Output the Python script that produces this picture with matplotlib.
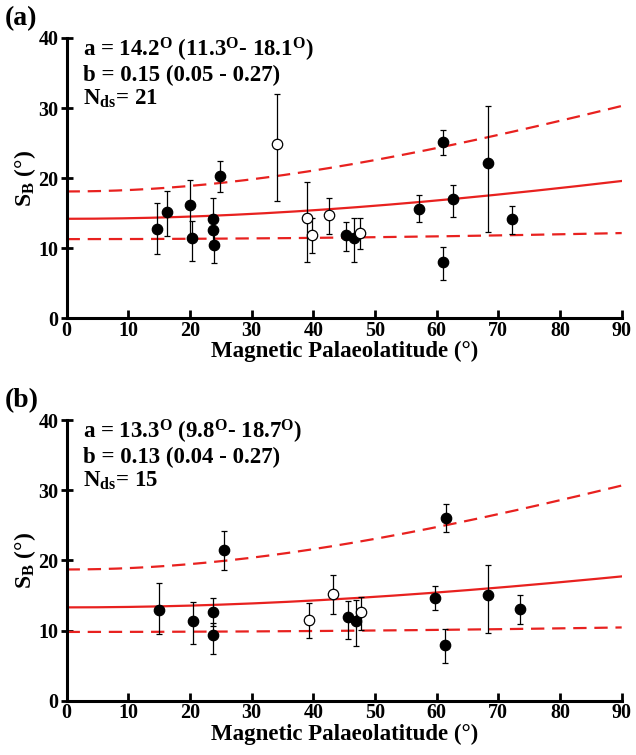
"""Angular dispersion S_B versus magnetic palaeolatitude, two panels."""

import numpy as np
import matplotlib
matplotlib.use('Agg')
import matplotlib.pyplot as plt

plt.rcParams['font.family'] = 'Liberation Serif'
plt.rcParams['font.weight'] = 'bold'
plt.rcParams['axes.labelweight'] = 'bold'
plt.rcParams['mathtext.fontset'] = 'custom'
plt.rcParams['mathtext.rm'] = 'Liberation Serif:bold'
plt.rcParams['mathtext.bf'] = 'Liberation Serif:bold'
plt.rcParams['mathtext.it'] = 'Liberation Serif:bold'

# panel (a) data
lat_a_fill = [14.7, 16.3, 19.95, 20.4, 23.7, 23.7, 23.9, 24.9, 45.3, 46.6,
              57.1, 61.05, 61.05, 62.7, 68.4, 72.2]
sb_a_fill = [12.75, 15.1, 16.1, 11.4, 14.2, 12.6, 10.5, 20.3, 11.9, 11.4,
             15.6, 25.1, 8.1, 17.0, 22.2, 14.1]
up_a_fill = [16.5, 18.2, 19.8, 13.9, 17.2, 14.0, 12.0, 22.5, 13.8, 14.3,
             17.6, 26.9, 10.2, 19.0, 30.3, 16.0]
lo_a_fill = [9.2, 11.7, 11.5, 8.2, 12.0, 11.0, 7.9, 18.0, 9.6, 8.0,
             13.7, 23.3, 5.5, 14.5, 12.3, 12.1]
lat_a_open = [34.15, 38.9, 39.8, 42.5, 47.55]
sb_a_open = [24.9, 14.3, 11.9, 14.75, 12.2]
up_a_open = [32.0, 19.4, 14.3, 17.2, 14.3]
lo_a_open = [16.7, 8.0, 9.3, 12.0, 9.9]

# panel (b) data
lat_b_fill = [15.0, 20.5, 23.8, 23.7, 25.5, 45.7, 46.85, 59.7, 61.5, 61.3,
              68.4, 73.5]
sb_b_fill = [12.96, 11.3, 12.6, 9.3, 21.5, 12.0, 11.4, 14.6, 26.1, 8.0,
             15.0, 13.05]
up_b_fill = [16.8, 14.1, 14.6, 11.1, 24.2, 14.2, 14.3, 16.3, 28.1, 10.2,
             19.3, 15.1]
lo_b_fill = [9.5, 8.1, 10.6, 6.7, 18.6, 8.8, 7.8, 12.9, 24.0, 5.4,
             9.7, 10.9]
lat_b_open = [39.3, 43.2, 47.7]
sb_b_open = [11.5, 15.2, 12.6]
up_b_open = [13.9, 17.9, 14.8]
lo_b_open = [9.0, 12.3, 10.1]

# model G fit parameters: best, lower, upper (a, b)
fit_a = [(14.2, 0.15), (11.3, 0.05), (18.1, 0.27)]
fit_b = [(13.3, 0.13), (9.8, 0.04), (18.7, 0.27)]
txt_a = [r'a = 14.2$^{O}$ (11.3$^{O}$- 18.1$^{O}$)',
         'b = 0.15 (0.05 - 0.27)', r'N$_{ds}$= 21']
txt_b = [r'a = 13.3$^{O}$ (9.8$^{O}$- 18.7$^{O}$)',
         'b = 0.13 (0.04 - 0.27)', r'N$_{ds}$= 15']

RED = '#e8211f'


def model_g(lat, a, b):
    """Model G dispersion curve."""
    return np.sqrt(a**2 + (b*lat)**2)


def draw_points(ax, x, y, up, lo, face):
    """Plot points with asymmetric error bars."""
    y = np.array(y)
    yerr = [y - np.array(lo), np.array(up) - y]
    ax.errorbar(x, y, yerr=yerr, fmt='o', ms=7.5, mfc=face, mec='black',
                mew=0.9, ecolor='black', elinewidth=0.9, capsize=2,
                capthick=0.9, zorder=3)


def panel(ax, fill, opn, fit, texts, label):
    lat = np.linspace(0, 90, 200)
    best, low, high = fit
    ax.plot(lat, model_g(lat, *best), color=RED, lw=1.6, zorder=2)
    for pars in (low, high):
        ax.plot(lat, model_g(lat, *pars), color=RED, lw=1.6,
                ls=(0, (6, 3.5)), zorder=2)
    draw_points(ax, *fill, 'black')
    draw_points(ax, *opn, 'white')
    ax.set_xlim(0, 90)
    ax.set_ylim(0, 40)
    ax.set_xticks(range(0, 91, 10))
    ax.set_yticks(range(0, 41, 10))
    for side in ('top', 'right'):
        ax.spines[side].set_visible(False)
    for side in ('left', 'bottom'):
        ax.spines[side].set_linewidth(2.2)
    ax.tick_params(width=2, labelsize=14.5, pad=2)
    ax.tick_params(axis='x', direction='in', length=6)
    ax.tick_params(axis='y', direction='inout', length=8)
    ax.set_xlabel('Magnetic Palaeolatitude (°)', fontsize=16.5, labelpad=0)
    ax.set_ylabel(r'S$_{B}$ (°)', fontsize=17, labelpad=0)
    for txt, yy in zip(texts, (38.3, 34.6, 31.3)):
        ax.text(2.6, yy, txt, fontsize=16.5, va='center', ha='left')
    ax.text(-0.112, 1.025, label, transform=ax.transAxes, fontsize=20,
            ha='left', va='bottom')


fig = plt.figure(figsize=(6.36, 7.55), dpi=100)
ax1 = fig.add_axes([0.1047, 0.5784, 0.8728, 0.3713])
ax2 = fig.add_axes([0.1047, 0.0719, 0.8728, 0.3718])
panel(ax1, (lat_a_fill, sb_a_fill, up_a_fill, lo_a_fill),
      (lat_a_open, sb_a_open, up_a_open, lo_a_open), fit_a, txt_a, '(a)')
panel(ax2, (lat_b_fill, sb_b_fill, up_b_fill, lo_b_fill),
      (lat_b_open, sb_b_open, up_b_open, lo_b_open), fit_b, txt_b, '(b)')
fig.savefig('out.png', dpi=100)
